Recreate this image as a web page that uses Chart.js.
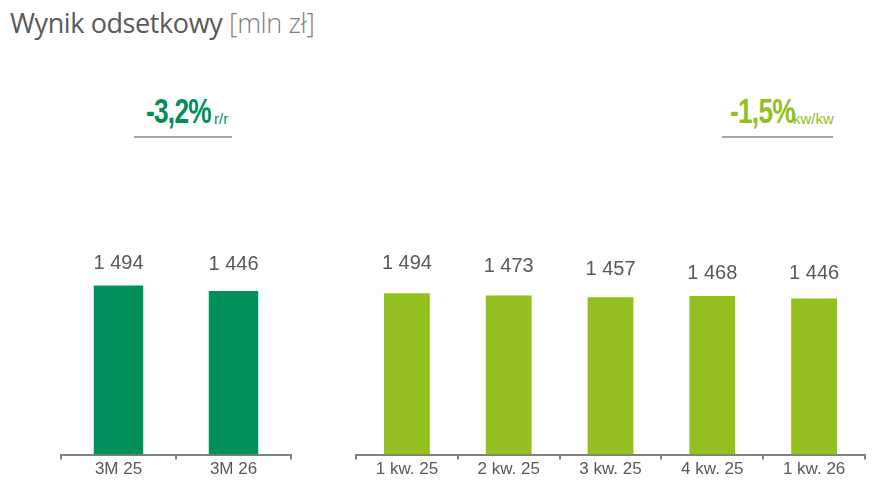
<!DOCTYPE html>
<html lang="pl">
<head>
<meta charset="UTF-8">
<title>Wynik odsetkowy</title>
<script src="https://cdn.jsdelivr.net/npm/chart.js"></script>
<style>
    body { margin: 0; width: 882px; height: 503px; background: #fff; position: relative; overflow: hidden; font-family: "Liberation Sans", Arial, sans-serif; }
    .title { position: absolute; left: 10px; top: 4px; font-family: "Open Sans", sans-serif; font-size: 27px; color: #5a5a5a; letter-spacing: -0.4px; white-space: nowrap; }
    .title .unit { color: #808080; font-weight: 300; }
    .big { position: absolute; top: 93px; line-height: 1; white-space: nowrap; font-family: "Liberation Sans Narrow", "Liberation Sans", sans-serif; font-weight: bold; font-size: 35px; letter-spacing: -1px; transform-origin: left top; transform: scaleX(0.75); }
    .small { position: absolute; top: 111px; line-height: 1; white-space: nowrap; font-size: 15px; }
    .rule { position: absolute; height: 2px; background: #a6a6a6; top: 136px; }
    .wrap { position: absolute; top: 150px; height: 330px; }
</style>
</head>
<body>
<div class="title">Wynik odsetkowy <span class="unit">[mln zł]</span></div>

<div class="big" style="left:146px; color:#00915a;">-3,2%</div>
<div class="small" style="left:214px; color:#00915a;">r/r</div>
<div class="rule" style="left:134px; width:98px;"></div>

<div class="big" style="left:730px; color:#93c01f;">-1,5%</div>
<div class="small" style="left:793px; color:#93c01f;">kw/kw</div>
<div class="rule" style="left:722px; width:111px;"></div>

<div class="wrap" style="left:60px; width:232px;"><canvas id="rr"></canvas></div>
<div class="wrap" style="left:355px; width:511px;"><canvas id="kk"></canvas></div>

<script>
    // dane
    const yearLabels = ['3M 25', '3M 26'];
    const yearValues = [1494, 1446];
    const quarterLabels = ['1 kw. 25', '2 kw. 25', '3 kw. 25', '4 kw. 25', '1 kw. 26'];
    const quarterValues = [1494, 1473, 1457, 1468, 1446];

    const fmt = v => String(v).replace(/\B(?=(\d{3})+(?!\d))/g, ' ');

    // etykiety wartosci nad slupkami (odstep od slupka w px, osobno dla kazdego)
    const valueLabels = {
        id: 'valueLabels',
        afterDatasetsDraw(chart, args, opts) {
            const ctx = chart.ctx;
            const ds = chart.data.datasets[0];
            ctx.save();
            ctx.font = '20px "Liberation Sans", Arial, sans-serif';
            ctx.fillStyle = '#595959';
            ctx.textAlign = 'center';
            ctx.textBaseline = 'middle';
            chart.getDatasetMeta(0).data.forEach((bar, i) => {
                ctx.fillText(fmt(ds.data[i]), bar.x, bar.y - opts.offsets[i]);
            });
            ctx.restore();
        }
    };

    function makeChart(id, labels, values, color, yMax, barPct, offsets) {
        new Chart(document.getElementById(id), {
            type: 'bar',
            data: {
                labels: labels,
                datasets: [{
                    data: values,
                    backgroundColor: color,
                    categoryPercentage: 1,
                    barPercentage: barPct
                }]
            },
            options: {
                responsive: true,
                maintainAspectRatio: false,
                animation: false,
                layout: { padding: { left: 1, right: 1, top: 0, bottom: 0 } },
                plugins: {
                    legend: { display: false },
                    tooltip: { enabled: false },
                    valueLabels: { offsets: offsets }
                },
                scales: {
                    y: { display: false, min: 0, max: yMax },
                    x: {
                        border: { display: true, color: '#808080', width: 2 },
                        grid: { display: true, drawOnChartArea: false, drawTicks: true, tickLength: 5, color: '#808080', lineWidth: 2 },
                        ticks: { color: '#595959', padding: 0, font: { size: 17, family: '"Liberation Sans", Arial, sans-serif' } }
                    }
                }
            },
            plugins: [valueLabels]
        });
    }

    makeChart('rr', yearLabels, yearValues, '#00915a', 2693, 0.43, [22, 27]);
    makeChart('kk', quarterLabels, quarterValues, '#93c01f', 2820, 0.45, [30, 29, 28, 23, 25]);
</script>
</body>
</html>
